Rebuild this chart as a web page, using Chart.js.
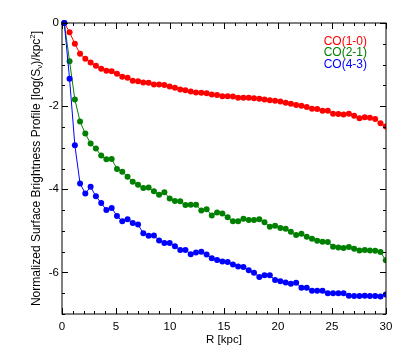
<!DOCTYPE html>
<html>
<head>
<meta charset="utf-8">
<script src="https://cdn.jsdelivr.net/npm/chart.js@4/dist/chart.umd.min.js"></script>
<style>
  html, body { margin: 0; padding: 0; background: #fff; }
  #wrap { width: 405px; height: 354px; }
</style>
</head>
<body>
<div id="wrap"><canvas id="out" width="405" height="354"></canvas></div>
<script>
// radius of each annulus, kpc
const R = [0.21, 0.70, 1.19, 1.67, 2.16, 2.65, 3.14, 3.63, 4.11, 4.60,
  5.09, 5.58, 6.07, 6.55, 7.04, 7.53, 8.02, 8.51, 8.99, 9.48,
  9.97, 10.46, 10.95, 11.43, 11.92, 12.41, 12.90, 13.39, 13.87, 14.36,
  14.85, 15.34, 15.83, 16.31, 16.80, 17.29, 17.78, 18.27, 18.75, 19.24,
  19.73, 20.22, 20.71, 21.19, 21.68, 22.17, 22.66, 23.15, 23.63, 24.12,
  24.61, 25.10, 25.59, 26.07, 26.56, 27.05, 27.54, 28.03, 28.51, 29.00,
  29.49, 29.98];

const co10 = [0, -0.22, -0.50, -0.74, -0.86, -0.95, -1.03, -1.10, -1.15, -1.16,
  -1.22, -1.29, -1.32, -1.39, -1.40, -1.43, -1.44, -1.48, -1.48, -1.49,
  -1.53, -1.56, -1.60, -1.62, -1.65, -1.67, -1.68, -1.69, -1.72, -1.73,
  -1.76, -1.76, -1.77, -1.80, -1.80, -1.80, -1.81, -1.82, -1.84, -1.86,
  -1.87, -1.89, -1.92, -1.94, -1.97, -1.99, -2.02, -2.06, -2.07, -2.11,
  -2.11, -2.18, -2.19, -2.20, -2.18, -2.23, -2.29, -2.27, -2.28, -2.31,
  -2.41, -2.49];

const co21 = [0, -0.92, -1.84, -2.37, -2.66, -2.90, -3.02, -3.19, -3.28, -3.27,
  -3.51, -3.58, -3.70, -3.82, -3.89, -3.97, -3.96, -4.05, -4.13, -4.07,
  -4.22, -4.28, -4.29, -4.38, -4.37, -4.37, -4.51, -4.48, -4.63, -4.56,
  -4.58, -4.67, -4.77, -4.77, -4.71, -4.74, -4.74, -4.72, -4.79, -4.90,
  -4.88, -4.93, -4.95, -5.02, -5.10, -5.07, -5.14, -5.19, -5.24, -5.26,
  -5.27, -5.38, -5.40, -5.41, -5.39, -5.43, -5.47, -5.46, -5.47, -5.48,
  -5.51, -5.71];

const co43 = [0, -1.34, -2.94, -3.86, -4.10, -3.94, -4.17, -4.33, -4.50, -4.45,
  -4.64, -4.77, -4.72, -4.81, -4.85, -5.06, -5.12, -5.11, -5.23, -5.29,
  -5.29, -5.37, -5.46, -5.46, -5.56, -5.52, -5.50, -5.57, -5.66, -5.70,
  -5.74, -5.75, -5.81, -5.86, -5.87, -5.95, -6.01, -6.11, -6.07, -6.07,
  -6.18, -6.21, -6.24, -6.27, -6.25, -6.37, -6.37, -6.44, -6.44, -6.44,
  -6.50, -6.50, -6.50, -6.50, -6.56, -6.57, -6.57, -6.56, -6.57, -6.57,
  -6.58, -6.53];

const xTicks = [0, 5, 10, 15, 20, 25, 30];
const yTicks = [-6, -4, -2, 0];

const FONT = "'Liberation Sans', Arial, sans-serif";

function toPoints(values) {
  return values.map((v, i) => ({ x: R[i], y: v }));
}

function series(label, color, values, order) {
  return {
    label,
    data: toPoints(values),
    borderColor: color,
    backgroundColor: color,
    borderWidth: 1,
    pointRadius: 3,
    pointHoverRadius: 3,
    pointBorderWidth: 0,
    tension: 0,
    order,
    clip: { left: 5, top: 5, right: 0, bottom: 0 }
  };
}

// frame with inward ticks on all four sides, axis titles and the text legend
const framePlugin = {
  id: "framePlugin",
  afterDatasetsDraw(chart) {
    const { ctx, chartArea: a, scales: { x, y } } = chart;
    ctx.save();
    ctx.strokeStyle = "#000";
    ctx.lineWidth = 1;
    ctx.strokeRect(a.left, a.top, a.right - a.left, a.bottom - a.top);

    ctx.beginPath();
    for (let v = x.min; v <= x.max; v += 1) {
      const px = Math.round(x.getPixelForValue(v)) + 0.5;
      const len = v % 5 === 0 ? 6 : 3;
      ctx.moveTo(px, a.bottom); ctx.lineTo(px, a.bottom - len);
      ctx.moveTo(px, a.top); ctx.lineTo(px, a.top + len);
    }
    for (let v = y.min; v <= y.max; v += 0.5) {
      const py = Math.round(y.getPixelForValue(v)) + 0.5;
      const len = v % 2 === 0 ? 6 : 3;
      ctx.moveTo(a.left, py); ctx.lineTo(a.left + len, py);
      ctx.moveTo(a.right, py); ctx.lineTo(a.right - len, py);
    }
    ctx.stroke();

    // legend: coloured labels only
    ctx.font = "12px " + FONT;
    ctx.textAlign = "right";
    ctx.textBaseline = "alphabetic";
    chart.data.datasets.forEach((ds, i) => {
      ctx.fillStyle = ds.borderColor;
      ctx.fillText(ds.label, 367, 45 + i * 11.3);
    });

    // x title
    ctx.fillStyle = "#000";
    ctx.textAlign = "center";
    ctx.font = "11.5px " + FONT;
    ctx.fillText("R [kpc]", (a.left + a.right) / 2, 343);

    // y title with sub/superscript
    const parts = [
      { t: "Normalized Surface Brightness Profile [log(S", s: 12, dy: 0 },
      { t: "ν", s: 8, dy: 2.5 },
      { t: ")/kpc", s: 12, dy: 0 },
      { t: "2", s: 8, dy: -5 },
      { t: "]", s: 12, dy: 0 }
    ];
    let total = 0;
    parts.forEach(p => { ctx.font = p.s + "px " + FONT; p.w = ctx.measureText(p.t).width; total += p.w; });
    ctx.translate(39.5, (a.top + a.bottom) / 2);
    ctx.rotate(-Math.PI / 2);
    ctx.textAlign = "left";
    let cx = -total / 2;
    parts.forEach(p => {
      ctx.font = p.s + "px " + FONT;
      ctx.fillText(p.t, cx, p.dy);
      cx += p.w;
    });
    ctx.restore();
  }
};

const chartConfig = {
  type: "line",
  data: {
    datasets: [
      series("CO(1-0)", "#ff0000", co10, 2),
      series("CO(2-1)", "#008000", co21, 1),
      series("CO(4-3)", "#0000ff", co43, 0)
    ]
  },
  options: {
    responsive: false,
    animation: false,
    events: [],
    layout: { padding: { top: 23, right: 19, left: 0, bottom: 0 } },
    plugins: { legend: { display: false }, tooltip: { enabled: false } },
    scales: {
      x: {
        type: "linear",
        min: 0,
        max: 30,
        grid: { display: false, drawTicks: false },
        border: { display: false },
        afterBuildTicks: s => { s.ticks = xTicks.map(v => ({ value: v })); },
        afterFit: s => { s.height = 40; },
        ticks: { padding: 6, color: "#000", font: { family: FONT, size: 11.5 }, maxRotation: 0 }
      },
      y: {
        type: "linear",
        min: -7,
        max: 0,
        grid: { display: false, drawTicks: false },
        border: { display: false },
        afterBuildTicks: s => { s.ticks = yTicks.map(v => ({ value: v })); },
        afterFit: s => { s.width = 62; },
        ticks: { padding: 3, color: "#000", font: { family: FONT, size: 11.5 } }
      }
    }
  },
  plugins: [framePlugin]
};

const canvasCtx = document.getElementById("out").getContext("2d");
window.chart = new Chart(canvasCtx, chartConfig);
</script>
</body>
</html>
